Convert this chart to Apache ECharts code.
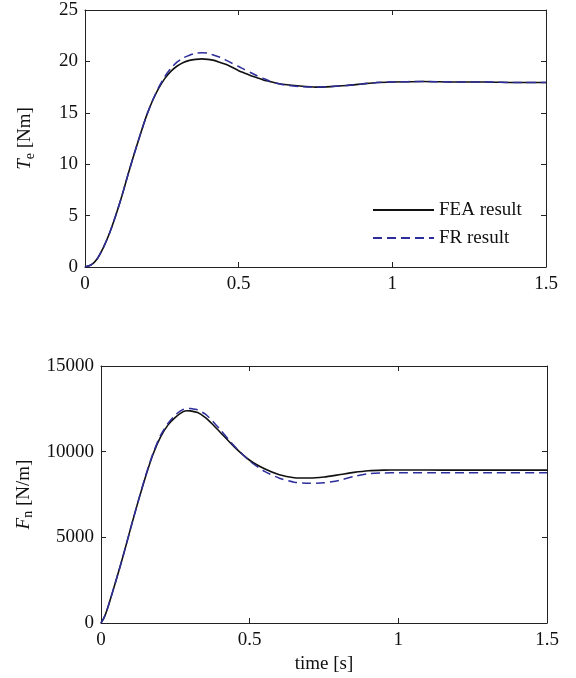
<!DOCTYPE html>
<html>
<head>
<meta charset="utf-8">
<script src="https://cdn.jsdelivr.net/npm/echarts@6/dist/echarts.min.js"></script>
<style>html,body{margin:0;padding:0;background:#fff}#c{width:576px;height:678px}</style>
</head>
<body>
<div id="c"></div>
<script>
// ---- Top plot: electromagnetic torque T_e [Nm] ----
const topTime = [0,0.02,0.04,0.06,0.08,0.1,0.12,0.14,0.16,0.18,0.2,0.22,0.24,0.26,0.28,0.3,0.32,0.34,0.36,0.38,0.4,0.42,0.44,0.46,0.48,0.5,0.52,0.54,0.56,0.58,0.6,0.62,0.65,0.7,0.75,0.8,0.85,0.9,0.95,1.0,1.1,1.2,1.3,1.4,1.5];
const topFEA  = [0,0.2,0.8,1.9,3.3,5.0,6.9,9.0,11.0,12.9,14.7,16.2,17.4,18.35,19.05,19.55,19.9,20.1,20.2,20.25,20.2,20.1,19.9,19.7,19.4,19.1,18.85,18.6,18.4,18.2,18.05,17.9,17.75,17.6,17.5,17.55,17.65,17.8,17.95,18.0,18.05,18.0,18.0,17.95,17.95];
const topFR   = [0,0.2,0.8,1.9,3.3,5.0,6.9,9.0,11.0,12.9,14.7,16.2,17.5,18.55,19.35,19.95,20.35,20.6,20.8,20.85,20.8,20.6,20.4,20.1,19.8,19.5,19.2,18.9,18.6,18.35,18.1,17.9,17.7,17.55,17.5,17.55,17.65,17.8,17.95,18.0,18.05,18.0,18.0,17.95,17.95];

// ---- Bottom plot: normal force F_n [N/m] ----
const botTime = [0,0.01,0.02,0.03,0.05,0.075,0.1,0.125,0.15,0.175,0.2,0.225,0.25,0.275,0.29,0.3,0.325,0.35,0.375,0.4,0.45,0.5,0.55,0.6,0.65,0.7,0.75,0.8,0.85,0.9,0.95,1.0,1.1,1.2,1.3,1.5];
const botFEA  = [0,300,750,1300,2450,3950,5550,7100,8550,9850,10850,11550,12000,12320,12390,12380,12280,12000,11600,11150,10250,9500,9000,8650,8480,8460,8520,8650,8790,8890,8920,8930,8930,8920,8920,8920];
const botFR   = [0,300,750,1300,2450,3950,5550,7100,8600,9900,10950,11650,12150,12450,12530,12520,12440,12200,11800,11300,10300,9450,8850,8450,8220,8150,8180,8320,8550,8720,8760,8770,8770,8770,8770,8770];

const xTicks = ['0','0.5','1','1.5'];
const legendNames = ['FEA result','FR result'];

const zip = (a,b) => a.map((v,i)=>[v,b[i]]);
const FONT = 'Liberation Serif';
const BLACK = '#111';
const BLUE = '#2d2d9c';

function xAx(grid, pos, labels){
  return {type:'value', gridIndex:grid, position:pos, min:0, max:1.5, interval:0.5,
    axisLine:{show:true, onZero:false, lineStyle:{color:'#222', width:1}},
    axisTick:{show:true, inside:true, length:5, lineStyle:{color:'#222'}},
    splitLine:{show:false},
    axisLabel:{show:labels, margin:8, color:'#111', fontFamily:FONT, fontSize:19,
      formatter:v=>xTicks[Math.round(v/0.5)]}};
}
function yAx(grid, pos, labels, max, interval){
  return {type:'value', gridIndex:grid, position:pos, min:0, max:max, interval:interval,
    axisLine:{show:true, onZero:false, lineStyle:{color:'#222', width:1}},
    axisTick:{show:true, inside:true, length:5, lineStyle:{color:'#222'}},
    splitLine:{show:false},
    axisLabel:{show:labels, margin:7, color:'#111', fontFamily:FONT, fontSize:19, formatter:v=>String(v)}};
}

const rich = {
  i:{fontFamily:FONT, fontSize:19, fontStyle:'italic', color:'#111'},
  s:{fontFamily:FONT, fontSize:14, color:'#111', padding:[10,0,0,0]},
  n:{fontFamily:FONT, fontSize:19, color:'#111'}
};

const yTop = yAx(0,'left',true,25,5);
Object.assign(yTop,{name:'{i|T}{s|e}{n| [Nm]}', nameLocation:'middle', nameRotate:90, nameGap:48, nameTextStyle:{rich:rich}});
const yBot = yAx(1,'left',true,15000,5000);
Object.assign(yBot,{name:'{i|F}{s|n}{n| [N/m]}', nameLocation:'middle', nameRotate:90, nameGap:64, nameTextStyle:{rich:rich}});
const xBot = xAx(1,'bottom',true);
Object.assign(xBot,{name:'time [s]', nameLocation:'middle', nameGap:32, nameTextStyle:{fontFamily:FONT, fontSize:19, color:'#111'}});

function line(name, xi, yi, t, v, color, dashed){
  return {name:name, type:'line', xAxisIndex:xi, yAxisIndex:yi, data:zip(t,v),
    smooth:0.2, symbol:'none',
    lineStyle:{color:color, width:dashed?1.5:1.6, type:dashed?[9,5]:'solid'},
    itemStyle:{color:color}};
}

const chart = echarts.init(document.getElementById('c'), null, {renderer:'canvas'});
chart.setOption({
  animation:false,
  backgroundColor:'#fff',
  grid:[
    {left:85, top:10, width:461, height:257},
    {left:101, top:366, width:446, height:257}
  ],
  legend:{
    data:legendNames, orient:'vertical', left:367, top:195, itemGap:8,
    itemWidth:61, itemHeight:14,
    itemStyle:{color:'rgba(0,0,0,0)', borderWidth:0, opacity:0},
    textStyle:{fontFamily:FONT, fontSize:19, color:'#111', lineHeight:20}
  },
  xAxis:[xAx(0,'bottom',true), xAx(0,'top',false), xBot, xAx(1,'top',false)],
  yAxis:[yTop, yAx(0,'right',false,25,5), yBot, yAx(1,'right',false,15000,5000)],
  series:[
    line(legendNames[0],0,0,topTime,topFEA,BLACK,false),
    line(legendNames[1],0,0,topTime,topFR,BLUE,true),
    line(legendNames[0],2,2,botTime,botFEA,BLACK,false),
    line(legendNames[1],2,2,botTime,botFR,BLUE,true)
  ]
});
</script>
</body>
</html>
